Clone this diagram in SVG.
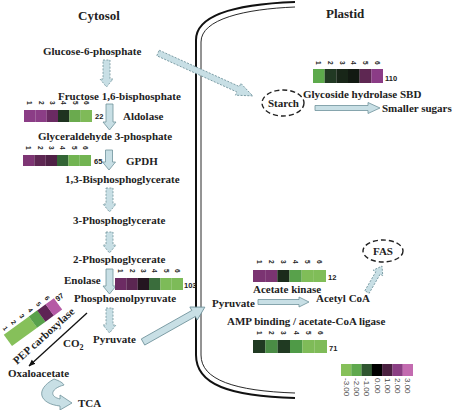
<svg xmlns="http://www.w3.org/2000/svg" width="455" height="410" viewBox="0 0 455 410">
<style>
.t{font-family:"Liberation Serif","Times New Roman",serif;font-weight:bold;font-size:11px;fill:#222}
.ti{font-size:13px}
.n{font-family:"Liberation Sans",Arial,sans-serif;font-weight:bold;font-size:7.5px;fill:#222}
.d{font-family:"Liberation Sans",Arial,sans-serif;font-weight:bold;font-size:6.5px;fill:#222;dominant-baseline:central}
.lg{font-family:"Liberation Sans",Arial,sans-serif;font-size:8px;fill:#444;dominant-baseline:central}
.ar{fill:#c8dfe5;stroke:#6f929b;stroke-width:0.8}
.ds{stroke-dasharray:2 1.4}
.el{fill:none;stroke:#222;stroke-width:1.4;stroke-dasharray:5 3}
.mem{fill:none;stroke:#111}
</style>
<defs>
<marker id="blk" viewBox="0 0 10 10" refX="9" refY="5" markerWidth="7" markerHeight="7" orient="auto" markerUnits="userSpaceOnUse"><path d="M0,1 L10,5 L0,9 Z" fill="#111"/></marker>
</defs>

<g id="membrane">
<path class="mem" stroke-width="2" d="M295,2 C240,4 196,14 196,40 L196,355 C196,385 230,396 295,398"/>
<path class="mem" stroke-width="0.9" d="M295,7 C245,9 201,19 201,42 L201,355 C201,380 235,391 295,393"/>
</g>

<g id="titles">
<text class="t ti" x="78" y="20">Cytosol</text>
<text class="t ti" x="326" y="18">Plastid</text>
</g>

<g id="connectors">
<path class="ar ds" d="M103,60 H110 V79 H113 L106.5,87 L100,79 H103 Z"/>
<path class="ar" d="M106,104 H113 V122 H116 L109.5,130 L103,122 H106 Z"/>
<path class="ar" d="M105.5,150 H112.5 V162 H115.5 L109,170 L102.5,162 H105.5 Z"/>
<path class="ar ds" d="M106,188 H113 V204 H116 L109.5,212 L103,204 H106 Z"/>
<path class="ar ds" d="M106,232 H113 V245 H116 L109.5,253 L103,245 H106 Z"/>
<path class="ar" d="M106,269 H113 V286 H116 L109.5,294 L103,286 H106 Z"/>
<path class="ar ds" d="M106,308 H113 V325 H116 L109.5,333 L103,325 H106 Z"/>
<path class="ar ds" transform="translate(158,53) rotate(24.35)" d="M0,-3 L88,-3 L88,-6.5 L104,0 L88,6.5 L88,3 L0,3 Z"/>
<path class="ar" transform="translate(143,342) rotate(-29.4)" d="M0,-3.5 L58,-3.5 L58,-7.5 L71,0 L58,7.5 L58,3.5 L0,3.5 Z"/>
<path class="ar" d="M315,105.5 H368 V102.5 L380,108 L368,113.5 V110.5 H315 Z"/>
<path class="ar" d="M258,299.5 H299 V297 L309,302 L299,307 V304.5 H258 Z"/>
<path class="ar ds" transform="translate(367,292) rotate(-60)" d="M0,-2.5 L22,-2.5 L22,-5.5 L30,0 L22,5.5 L22,2.5 L0,2.5 Z"/>
<path class="ar" d="M54,379 C60,381 63,383 64,385 C52,388 48,396 60,399 L60,395 L72,403 L60,410 L60,406 C40,404 34,390 54,379 Z"/>
<line x1="87" y1="313" x2="29" y2="366" stroke="#111" stroke-width="1.3" marker-end="url(#blk)"/>
</g>

<g id="cytosol-labels">
<text class="t" x="43" y="55">Glucose-6-phosphate</text>
<text class="t" x="58" y="100">Fructose 1,6-bisphosphate</text>
<text class="t" x="123" y="120">Aldolase</text>
<text class="t" x="38" y="140">Glyceraldehyde 3-phosphate</text>
<text class="t" x="126" y="165">GPDH</text>
<text class="t" x="65" y="183">1,3-Bisphosphoglycerate</text>
<text class="t" x="73" y="224">3-Phosphoglycerate</text>
<text class="t" x="73" y="263">2-Phosphoglycerate</text>
<text class="t" x="64" y="284">Enolase</text>
<text class="t" x="74" y="302">Phosphoenolpyruvate</text>
<text class="t" x="93" y="343">Pyruvate</text>
<text class="t" x="63" y="347">CO<tspan dy="3" font-size="8">2</tspan></text>
<text class="t" x="8" y="377">Oxaloacetate</text>
<text class="t" x="78" y="407">TCA</text>
<text class="t" transform="translate(17,365) rotate(-42)">PEP carboxylase</text>
</g>

<g id="plastid-labels">
<text class="t" x="303" y="98">Glycoside hydrolase SBD</text>
<text class="t" x="382" y="112">Smaller sugars</text>
<text class="t" x="253" y="293">Acetate kinase</text>
<text class="t" x="212" y="307">Pyruvate</text>
<text class="t" x="316" y="302">Acetyl CoA</text>
<text class="t" x="227" y="325">AMP binding / acetate-CoA ligase</text>
</g>

<g id="starch">
<ellipse class="el" cx="283" cy="103" rx="21" ry="13"/>
<text class="t" x="268" y="107">Starch</text>
</g>
<g id="fas">
<ellipse class="el" cx="383" cy="251" rx="20" ry="11"/>
<text class="t" x="373" y="255">FAS</text>
</g>

<g id="hm-aldolase">
<rect x="24" y="110" width="11.4" height="12" fill="#8b3d86"/>
<rect x="35.33" y="110" width="11.4" height="12" fill="#8b3d86"/>
<rect x="46.67" y="110" width="11.4" height="12" fill="#6a2a62"/>
<rect x="58" y="110" width="11.4" height="12" fill="#1f3320"/>
<rect x="69.33" y="110" width="11.4" height="12" fill="#6aaa4e"/>
<rect x="80.67" y="110" width="11.33" height="12" fill="#7fba58"/>
<text class="d" transform="translate(29.7,101) rotate(90)">1</text>
<text class="d" transform="translate(41,101) rotate(90)">2</text>
<text class="d" transform="translate(52.3,101) rotate(90)">3</text>
<text class="d" transform="translate(63.7,101) rotate(90)">4</text>
<text class="d" transform="translate(75,101) rotate(90)">5</text>
<text class="d" transform="translate(86.3,101) rotate(90)">6</text>
<text class="n" x="95" y="119">22</text>
</g>

<g id="hm-gpdh">
<rect x="23" y="155" width="11.4" height="11" fill="#7e3574"/>
<rect x="34.33" y="155" width="11.4" height="11" fill="#5e2753"/>
<rect x="45.67" y="155" width="11.4" height="11" fill="#4f2146"/>
<rect x="57" y="155" width="11.4" height="11" fill="#336535"/>
<rect x="68.33" y="155" width="11.4" height="11" fill="#72b452"/>
<rect x="79.67" y="155" width="11.33" height="11" fill="#72b452"/>
<text class="d" transform="translate(28.7,146) rotate(90)">1</text>
<text class="d" transform="translate(40,146) rotate(90)">2</text>
<text class="d" transform="translate(51.3,146) rotate(90)">3</text>
<text class="d" transform="translate(62.7,146) rotate(90)">4</text>
<text class="d" transform="translate(74,146) rotate(90)">5</text>
<text class="d" transform="translate(85.3,146) rotate(90)">6</text>
<text class="n" x="94" y="164">65</text>
</g>

<g id="hm-enolase">
<rect x="115" y="278" width="11.4" height="12" fill="#6c2b63"/>
<rect x="126.33" y="278" width="11.4" height="12" fill="#5b2652"/>
<rect x="137.67" y="278" width="11.4" height="12" fill="#241520"/>
<rect x="149" y="278" width="11.4" height="12" fill="#3a6d3c"/>
<rect x="160.33" y="278" width="11.4" height="12" fill="#7dbb58"/>
<rect x="171.67" y="278" width="11.33" height="12" fill="#7dbb58"/>
<text class="d" transform="translate(120.7,269) rotate(90)">1</text>
<text class="d" transform="translate(132,269) rotate(90)">2</text>
<text class="d" transform="translate(143.3,269) rotate(90)">3</text>
<text class="d" transform="translate(154.7,269) rotate(90)">4</text>
<text class="d" transform="translate(166,269) rotate(90)">5</text>
<text class="d" transform="translate(177.3,269) rotate(90)">6</text>
<text class="n" x="184" y="288">103</text>
</g>

<g id="hm-pep" transform="translate(12,346) rotate(-36)">
<rect x="0" y="-14" width="31.1" height="14" fill="#86c05a"/>
<rect x="31" y="-14" width="10.4" height="14" fill="#58a14b"/>
<rect x="41.33" y="-14" width="10.4" height="14" fill="#5e2455"/>
<rect x="51.67" y="-14" width="10.33" height="14" fill="#b55aa5"/>
<text class="d" transform="translate(5.2,-20) rotate(90)">1</text>
<text class="d" transform="translate(15.5,-20) rotate(90)">2</text>
<text class="d" transform="translate(25.8,-20) rotate(90)">3</text>
<text class="d" transform="translate(36.2,-20) rotate(90)">4</text>
<text class="d" transform="translate(46.5,-20) rotate(90)">5</text>
<text class="d" transform="translate(56.8,-20) rotate(90)">6</text>
<text class="n" x="63" y="-9">97</text>
</g>

<g id="hm-glycoside">
<rect x="313" y="69" width="11.7" height="14" fill="#5daa4c"/>
<rect x="324.67" y="69" width="11.7" height="14" fill="#213923"/>
<rect x="336.33" y="69" width="11.7" height="14" fill="#182618"/>
<rect x="348" y="69" width="11.7" height="14" fill="#121a12"/>
<rect x="359.67" y="69" width="11.7" height="14" fill="#5e2752"/>
<rect x="371.33" y="69" width="11.67" height="14" fill="#8b3c86"/>
<text class="d" transform="translate(318.8,61) rotate(90)">1</text>
<text class="d" transform="translate(330.5,61) rotate(90)">2</text>
<text class="d" transform="translate(342.2,61) rotate(90)">3</text>
<text class="d" transform="translate(353.8,61) rotate(90)">4</text>
<text class="d" transform="translate(365.5,61) rotate(90)">5</text>
<text class="d" transform="translate(377.2,61) rotate(90)">6</text>
<text class="n" x="385" y="81">110</text>
</g>

<g id="hm-acetate-kinase">
<rect x="253" y="270" width="12.2" height="12" fill="#7b3472"/>
<rect x="265.17" y="270" width="12.2" height="12" fill="#7b3472"/>
<rect x="277.33" y="270" width="12.2" height="12" fill="#1b2b1b"/>
<rect x="289.5" y="270" width="12.2" height="12" fill="#58a14b"/>
<rect x="301.67" y="270" width="12.2" height="12" fill="#80bd58"/>
<rect x="313.83" y="270" width="12.17" height="12" fill="#80bd58"/>
<text class="d" transform="translate(259.1,260) rotate(90)">1</text>
<text class="d" transform="translate(271.3,260) rotate(90)">2</text>
<text class="d" transform="translate(283.4,260) rotate(90)">3</text>
<text class="d" transform="translate(295.6,260) rotate(90)">4</text>
<text class="d" transform="translate(307.8,260) rotate(90)">5</text>
<text class="d" transform="translate(319.9,260) rotate(90)">6</text>
<text class="n" x="328" y="280">12</text>
</g>

<g id="hm-amp">
<rect x="253" y="340" width="12.4" height="13" fill="#203a22"/>
<rect x="265.33" y="340" width="12.4" height="13" fill="#4a8c45"/>
<rect x="277.67" y="340" width="12.4" height="13" fill="#203a22"/>
<rect x="290" y="340" width="12.4" height="13" fill="#4f9a47"/>
<rect x="302.33" y="340" width="12.4" height="13" fill="#7fbb58"/>
<rect x="314.67" y="340" width="12.33" height="13" fill="#7fbb58"/>
<text class="d" transform="translate(259.2,331) rotate(90)">1</text>
<text class="d" transform="translate(271.5,331) rotate(90)">2</text>
<text class="d" transform="translate(283.8,331) rotate(90)">3</text>
<text class="d" transform="translate(296.2,331) rotate(90)">4</text>
<text class="d" transform="translate(308.5,331) rotate(90)">5</text>
<text class="d" transform="translate(320.8,331) rotate(90)">6</text>
<text class="n" x="329" y="351">71</text>
</g>

<g id="legend">
<rect x="341" y="364" width="10.4" height="12" fill="#86c05a"/>
<rect x="351.29" y="364" width="10.4" height="12" fill="#5fa84e"/>
<rect x="361.57" y="364" width="10.4" height="12" fill="#2f5530"/>
<rect x="371.86" y="364" width="10.4" height="12" fill="#000000"/>
<rect x="382.14" y="364" width="10.4" height="12" fill="#4a2040"/>
<rect x="392.43" y="364" width="10.4" height="12" fill="#8b3f84"/>
<rect x="402.71" y="364" width="10.29" height="12" fill="#c36bb0"/>
<text class="lg" transform="translate(346.1,378) rotate(90)">-3.00</text>
<text class="lg" transform="translate(356.4,378) rotate(90)">-2.00</text>
<text class="lg" transform="translate(366.7,378) rotate(90)">-1.00</text>
<text class="lg" transform="translate(377,378) rotate(90)">0.00</text>
<text class="lg" transform="translate(387.3,378) rotate(90)">1.00</text>
<text class="lg" transform="translate(397.6,378) rotate(90)">2.00</text>
<text class="lg" transform="translate(407.9,378) rotate(90)">3.00</text>
</g>
</svg>
